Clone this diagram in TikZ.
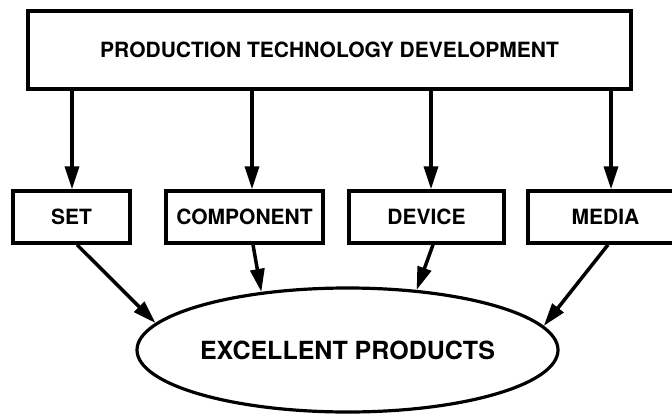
\documentclass[tikz,border=0pt]{standalone}
\usepackage{fontspec}
\setmainfont{TeX Gyre Heros}
\usepackage{tikz}
\usetikzlibrary{arrows.meta,positioning,calc,shapes.geometric}
\tikzset{
    headbox/.style={
        draw,
        line width=3.5pt,
        minimum width=603pt,
        minimum height=78pt,
        font=\fontsize{21}{25}\selectfont\bfseries
    },
    itembox/.style={
        draw,
        line width=3.5pt,
        minimum height=52pt,
        inner sep=0pt,
        font=\fontsize{21}{25}\selectfont\bfseries
    },
    goalellipse/.style={
        draw,
        ellipse,
        line width=3.2pt,
        minimum width=421pt,
        minimum height=124pt,
        inner sep=0pt,
        font=\fontsize{25}{30}\selectfont\bfseries
    },
    flow/.style={
        -{Triangle[length=23pt,width=14pt]},
        line width=3.5pt
    }
}

\begin{document}
\begin{tikzpicture}[x=1pt,y=-1pt,node distance=25pt]
        \clip (0,0) rectangle (672,415);

        \node[headbox] (ptd) at (329.5,50) {PRODUCTION TECHNOLOGY DEVELOPMENT};

        \node[itembox, minimum width=117pt] (set) at (71.5,217) {SET};
        \node[itembox, minimum width=157pt, right=32.5pt of set] (comp) {COMPONENT};
        \node[itembox, minimum width=155pt, right=22.5pt of comp] (dev) {DEVICE};
        \node[itembox, minimum width=155pt, right=20.5pt of dev] (media) {MEDIA};

        \node[goalellipse] (prod) at (347.5,350) {EXCELLENT PRODUCTS};

        \foreach \n/\up/\dn/\a in {set/0.5/5.5/172.3, comp/7.5/8.5/146.3, dev/4.5/6.5/41.4, media/5.5/2.5/7.7}{
            \draw[flow] ($(ptd.south -| \n.north)+(\up pt,0)$) -- ($(\n.north)+(\up pt,0)$);
            \draw[flow] ($(\n.south)+(\dn pt,0)$) -- (prod.\a);
        }
\end{tikzpicture}
\end{document}
